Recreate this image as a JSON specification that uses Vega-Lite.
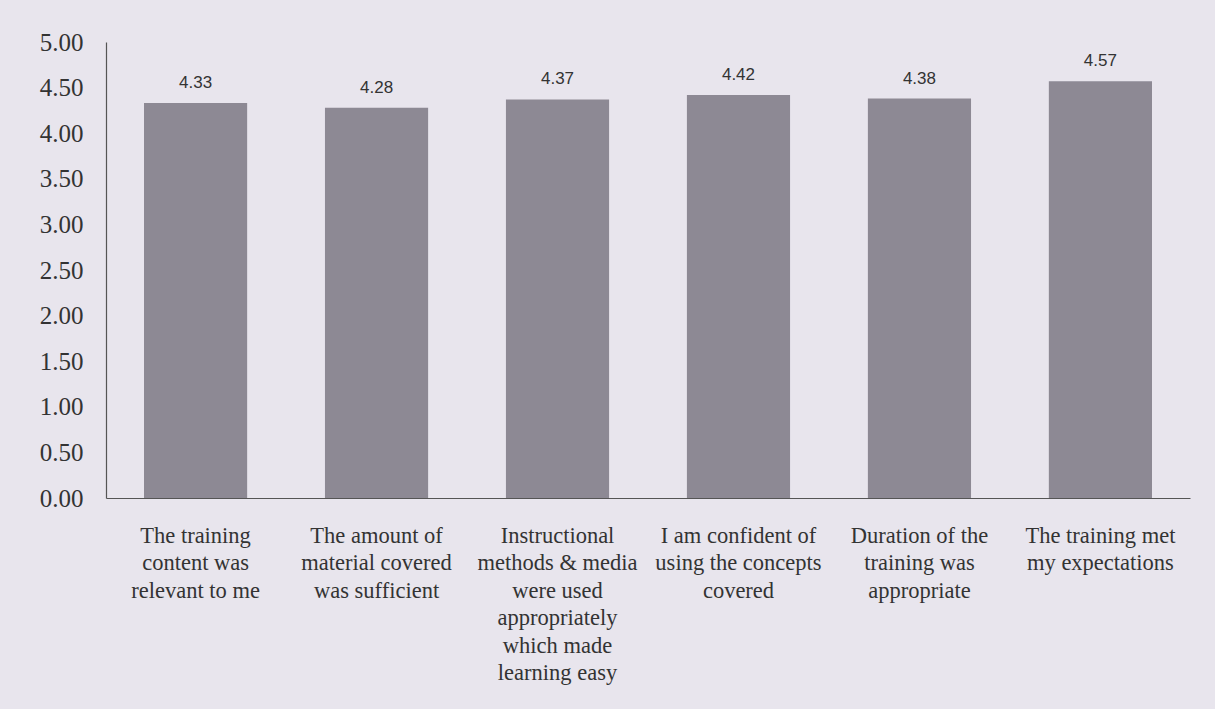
{
  "$schema": "https://vega.github.io/schema/vega-lite/v6.json",
  "autosize": {"type": "none"},
  "width": 1084,
  "height": 456,
  "padding": {"left": 106, "top": 42, "right": 25, "bottom": 211},
  "background": "#e8e5ed",
  "config": {"view": {"stroke": null}},
  "data": {
    "values": [
      {"item": "The training|content was|relevant to me", "score": 4.33},
      {"item": "The amount of|material covered|was sufficient", "score": 4.28},
      {"item": "Instructional|methods & media|were used|appropriately|which made|learning easy", "score": 4.37},
      {"item": "I am confident of|using the concepts|covered", "score": 4.42},
      {"item": "Duration of the|training was|appropriate", "score": 4.38},
      {"item": "The training met|my expectations", "score": 4.57}
    ]
  },
  "encoding": {
    "x": {
      "field": "item",
      "type": "nominal",
      "sort": null,
      "scale": {"paddingInner": 0.43, "paddingOuter": 0.21},
      "axis": {
        "title": null,
        "labelAngle": 0,
        "labelExpr": "split(datum.label, '|')",
        "labelFont": "Liberation Serif",
        "labelFontSize": 22.5,
        "labelColor": "#333333",
        "labelLineHeight": 27.5,
        "labelPadding": 26,
        "labelLimit": 300,
        "ticks": false,
        "domainColor": "#555555",
        "domainWidth": 1.2
      }
    },
    "y": {
      "field": "score",
      "type": "quantitative",
      "scale": {"domain": [0, 5], "nice": false},
      "axis": {
        "title": null,
        "values": [0, 0.5, 1, 1.5, 2, 2.5, 3, 3.5, 4, 4.5, 5],
        "format": ".2f",
        "grid": false,
        "ticks": false,
        "labelFont": "Liberation Serif",
        "labelFontSize": 25,
        "labelColor": "#333333",
        "labelPadding": 23,
        "domainColor": "#555555",
        "domainWidth": 1.2
      }
    }
  },
  "layer": [
    {"mark": {"type": "bar", "color": "#8d8994"}},
    {
      "mark": {"type": "text", "dy": -20, "font": "Liberation Sans", "fontSize": 17, "color": "#333333"},
      "encoding": {"text": {"field": "score", "type": "quantitative", "format": ".2f"}}
    }
  ]
}
